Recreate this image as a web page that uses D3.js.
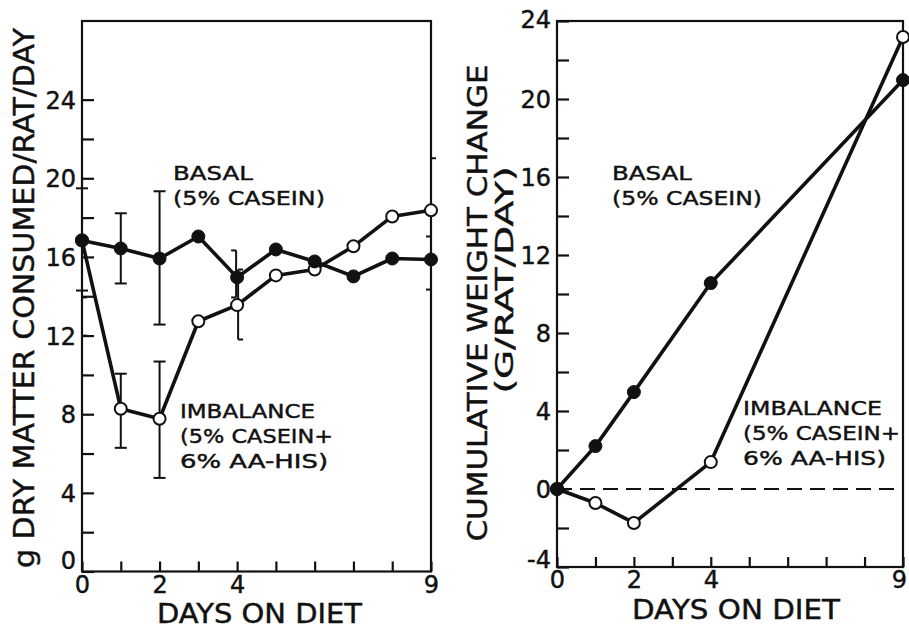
<!DOCTYPE html>
<html>
<head>
<meta charset="utf-8">
<script src="https://cdn.jsdelivr.net/npm/d3@7"></script>
<style>
  html, body { margin: 0; padding: 0; background: #fff; }
  svg { display: block; }
  text { font-family: "DejaVu Sans", sans-serif; fill: #111; stroke: #111; stroke-width: 0.45px; }
</style>
</head>
<body>
<svg id="chart" width="909" height="628"></svg>
<script>
// ---- Data ----
const days = [0, 1, 2, 3, 4, 5, 6, 7, 8, 9];

// Daily dry-matter intake, g/rat/day
const intakeBasal     = [16.84, 16.43, 15.92, 17.04, 14.96, 16.38, 15.77, 15.01, 15.92, 15.87];
const intakeImbalance = [16.84, 8.28, 7.77, 12.73, 13.55, 15.06, 15.36, 16.54, 18.06, 18.37];

// Error bars on intake (days with bars, upper and lower limits)
const errDays          = [0, 1, 2, 4, 9];
const errBasalHigh     = [19.49, 18.22, 19.34, 16.33, 17.04];
const errBasalLow      = [14.29, 14.65, 12.56, 13.94, 14.34];
const errImbalanceHigh = [13.94, 10.06, 10.68, 15.36, 21.02];
const errImbalanceLow  = [12.00, 6.29, 4.76, 11.80, 15.72];

// Cumulative weight change, g/rat
const weightDays      = [0, 1, 2, 4, 9];
const weightBasal     = [0, 2.2, 4.97, 10.56, 20.97];
const weightImbalance = [0, -0.72, -1.74, 1.38, 23.18];

// Axis tick labels
const intakeTickLabels = [0, 4, 8, 12, 16, 20, 24];
const weightTickLabels = [-4, 0, 4, 8, 12, 16, 20, 24];
const dayTickLabels    = [0, 2, 4, 9];

// Series labels
const basalLabel     = ["BASAL", "(5% CASEIN)"];
const imbalanceLabel = ["IMBALANCE", "(5% CASEIN+", "6% AA-HIS)"];

// ---- Drawing ----
const svg = d3.select("#chart");
const INK = "#111";

// cap style per error bar: [top cap side, bottom cap side]
const basalCaps     = [["both", "both"], ["both", "both"], ["both", "both"], ["left", "left"], ["left", "left"]];
const imbalanceCaps = [["right", "right"], ["both", "both"], ["both", "both"], ["right", "right"], ["right", "none"]];
const basalDx     = [0, 0, 0, -1, 0];
const imbalanceDx = [0, 0, 0, 1, 0];

function frame(g, x, y) {
  const [x0, x1] = x.range(), [y0, y1] = y.range();
  g.append("rect")
    .attr("x", x0).attr("y", y1)
    .attr("width", x1 - x0).attr("height", y0 - y1)
    .attr("fill", "none").attr("stroke", INK).attr("stroke-width", 2.2);
}

function axes(g, x, y, yTicks, yLabels, labelNudge, lastDx) {
  const ya = d3.axisLeft(y)
    .tickValues(yTicks)
    .tickSizeInner(-12).tickSizeOuter(0).tickPadding(6)
    .tickFormat(d => yLabels.includes(d) ? d : "");
  const gy = g.append("g").attr("transform", `translate(${x.range()[0]},0)`).call(ya);
  gy.select(".domain").remove();
  gy.selectAll("line").attr("stroke", INK).attr("stroke-width", 2.2);
  gy.selectAll("text")
    .attr("font-size", 24)
    .attr("dy", d => (labelNudge[d] || 0) + 8.5);

  const xa = d3.axisBottom(x)
    .tickValues(days)
    .tickSizeInner(-10).tickSizeOuter(0).tickPadding(4)
    .tickFormat(d => dayTickLabels.includes(d) ? d : "");
  const gx = g.append("g").attr("transform", `translate(0,${y.range()[0]})`).call(xa);
  gx.select(".domain").remove();
  gx.selectAll("line").attr("stroke", INK).attr("stroke-width", 2.2);
  gx.selectAll("text")
    .attr("font-size", 24).attr("dy", "0.71em")
    .attr("dx", d => d === 9 ? lastDx : 0);
}

function series(g, x, y, xs, ys) {
  const pts = xs.map((d, i) => [d, ys[i]]);
  g.append("path")
    .datum(pts)
    .attr("d", d3.line().x(d => x(d[0])).y(d => y(d[1])))
    .attr("fill", "none").attr("stroke", INK)
    .attr("stroke-width", 3.6).attr("stroke-linejoin", "round");
  return pts;
}

function markers(g, x, y, pts, filled) {
  g.selectAll(null).data(pts).join("circle")
    .attr("cx", d => x(d[0])).attr("cy", d => y(d[1]))
    .attr("r", filled ? 6.5 : 6)
    .attr("fill", filled ? INK : "#fff")
    .attr("stroke", INK).attr("stroke-width", filled ? 1 : 2);
}

function errorBars(g, x, y, xs, hi, lo, caps, dxs) {
  const cap = 5;
  xs.forEach((d, i) => {
    const cx = x(d) + dxs[i];
    g.append("line")
      .attr("x1", cx).attr("x2", cx)
      .attr("y1", y(hi[i])).attr("y2", y(lo[i]))
      .attr("stroke", INK).attr("stroke-width", 2);
    [[hi[i], caps[i][0]], [lo[i], caps[i][1]]].forEach(([v, side]) => {
      if (side === "none") return;
      const a = side === "right" ? cx : cx - cap;
      const b = side === "left" ? cx : cx + cap;
      g.append("line")
        .attr("x1", a - (side === "both" ? 1 : 0)).attr("x2", b + (side === "both" ? 1 : 0))
        .attr("y1", y(v)).attr("y2", y(v))
        .attr("stroke", INK).attr("stroke-width", 2);
    });
  });
}

function textBlock(g, lines, x, y0, step, lengths) {
  lines.forEach((t, i) => {
    g.append("text")
      .attr("x", x).attr("y", y0 + i * step)
      .attr("font-size", 20)
      .attr("textLength", lengths[i]).attr("lengthAdjust", "spacingAndGlyphs")
      .text(t);
  });
}

function rotatedTitle(g, txt, cx, cy, size, len) {
  g.append("text")
    .attr("transform", `translate(${cx},${cy}) rotate(-90)`)
    .attr("text-anchor", "middle")
    .attr("font-size", size)
    .attr("textLength", len).attr("lengthAdjust", "spacingAndGlyphs")
    .text(txt);
}

function xTitle(g, txt, x, y, len) {
  g.append("text")
    .attr("x", x).attr("y", y)
    .attr("font-size", 26)
    .attr("textLength", len).attr("lengthAdjust", "spacingAndGlyphs")
    .text(txt);
}

// ---- Left panel: food intake ----
const xL = d3.scaleLinear().domain([0, 9]).range([82, 431]);
const yL = d3.scaleLinear().domain([0, 28]).range([571.5, 21]);
const left = svg.append("g");

frame(left, xL, yL);
axes(left, xL, yL, d3.range(0, 25, 2), intakeTickLabels, { 0: -12 }, 0);

errorBars(left, xL, yL, errDays, errBasalHigh, errBasalLow, basalCaps, basalDx);
errorBars(left, xL, yL, errDays, errImbalanceHigh, errImbalanceLow, imbalanceCaps, imbalanceDx);

const lImb = series(left, xL, yL, days, intakeImbalance);
const lBas = series(left, xL, yL, days, intakeBasal);
markers(left, xL, yL, lImb, false);
markers(left, xL, yL, lBas, true);

textBlock(left, basalLabel, 173, 180, 24.5, [80, 152]);
textBlock(left, imbalanceLabel, 180, 418, 25, [135, 153, 148]);

rotatedTitle(left, "g DRY MATTER CONSUMED/RAT/DAY", 34, 298, 29, 540);
xTitle(left, "DAYS ON DIET", 157, 623, 205);

// ---- Right panel: cumulative weight change ----
const xR = d3.scaleLinear().domain([0, 9]).range([557, 903]);
const yR = d3.scaleLinear().domain([-4, 24]).range([567, 21]);
const right = svg.append("g");

frame(right, xR, yR);
axes(right, xR, yR, d3.range(-4, 25, 2), weightTickLabels, { "-4": -8, 24: -2 }, -4);

right.append("line")
  .attr("x1", xR(0)).attr("x2", xR(9))
  .attr("y1", yR(0)).attr("y2", yR(0))
  .attr("stroke", INK).attr("stroke-width", 2)
  .attr("stroke-dasharray", "15 8");

const rImb = series(right, xR, yR, weightDays, weightImbalance);
const rBas = series(right, xR, yR, weightDays, weightBasal);
markers(right, xR, yR, rImb, false);
markers(right, xR, yR, rBas, true);

textBlock(right, basalLabel, 612, 180, 25, [80, 150]);
textBlock(right, imbalanceLabel, 743, 415, 25, [139, 157, 143]);

rotatedTitle(right, "CUMULATIVE WEIGHT CHANGE", 487, 303, 27, 477);
rotatedTitle(right, "(G/RAT/DAY)", 513, 280, 25, 227);
xTitle(right, "DAYS ON DIET", 632, 619, 208);
</script>
</body>
</html>
